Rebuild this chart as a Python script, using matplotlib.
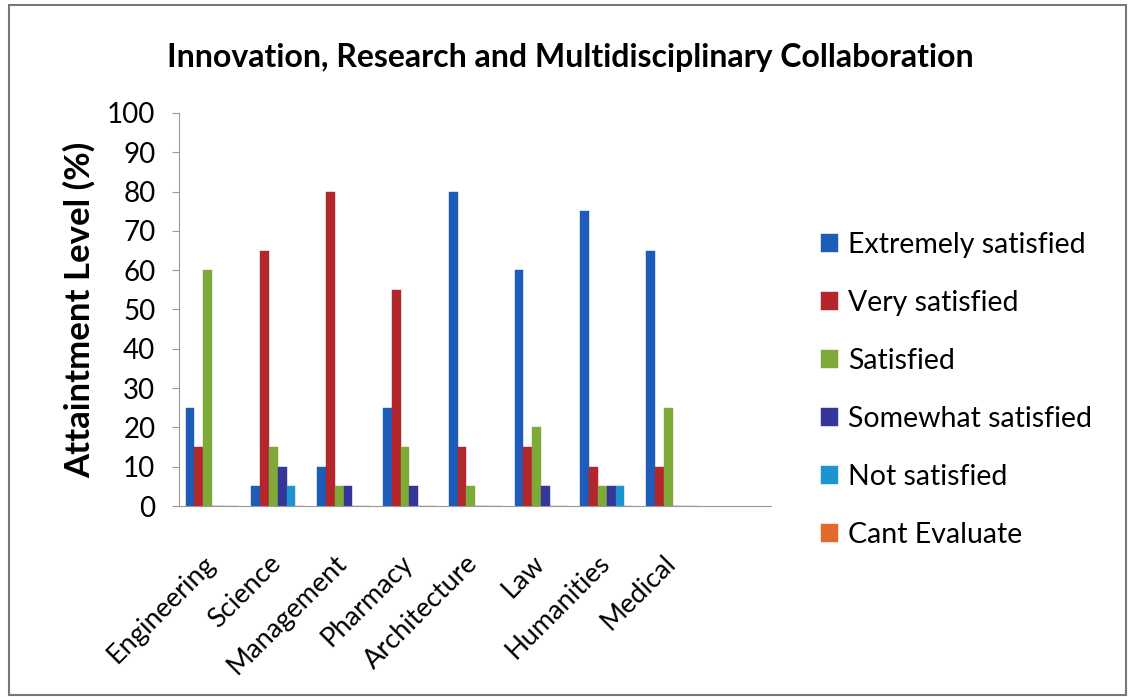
import numpy as np
import matplotlib
matplotlib.use('Agg')
import matplotlib.pyplot as plt
from matplotlib.patches import Rectangle
from matplotlib.transforms import ScaledTranslation

categories = ['Engineering', 'Science', 'Management', 'Pharmacy', 'Architecture',
              'Law', 'Humanities', 'Medical']
series = ['Extremely satisfied', 'Very satisfied', 'Satisfied',
          'Somewhat satisfied', 'Not satisfied', 'Cant Evaluate']

extremely = [25, 5, 10, 25, 80, 60, 75, 65]
very = [15, 65, 80, 55, 15, 15, 10, 10]
satisfied = [60, 15, 5, 15, 5, 20, 5, 25]
somewhat = [0, 10, 5, 5, 0, 5, 5, 0]
not_sat = [0, 5, 0, 0, 0, 0, 5, 0]
cant_eval = [0, 0, 0, 0, 0, 0, 0, 0]

values = [extremely, very, satisfied, somewhat, not_sat, cant_eval]
colors = ['#1D5CB8', '#B3262C', '#7DAA38', '#35359A', '#1E93D2', '#E2692A']

plt.rcParams['font.family'] = ['Lato', 'DejaVu Sans']

fig = plt.figure(figsize=(11.31, 6.97), dpi=100)
ax = fig.add_axes([0.1583, 0.274, 0.5237, 0.564])

n = len(series)
width = 1 / (n + 1.5)
x = np.arange(len(categories)) + 0.5
for i, (name, vals, col) in enumerate(zip(series, values, colors)):
    offs = (i - (n - 1) / 2) * width
    ax.bar(x + offs, vals, width=width, color=col, edgecolor=col,
           linewidth=0.3, label=name, zorder=2)

ax.set_xlim(0, 9)
ax.set_ylim(0, 100)
ax.set_yticks(range(0, 101, 10))
ax.tick_params(axis='y', labelsize=20, length=5, color='#999999', pad=12)
ax.set_xticks(x)
ax.set_xticklabels(categories, rotation=45, ha='right', rotation_mode='anchor',
                   fontsize=19.5)
ax.tick_params(axis='x', length=0, pad=32)
shift = ScaledTranslation(-7 / 72, 0, fig.dpi_scale_trans)
for lab in ax.get_xticklabels():
    lab.set_transform(lab.get_transform() + shift)

for s in ['top', 'right']:
    ax.spines[s].set_visible(False)
ax.spines['left'].set_color('#999999')
ax.spines['bottom'].set_color('#999999')

ax.set_ylabel('Attaintment Level (%)', fontsize=25, fontweight='bold', labelpad=8)
fig.text(0.504, 0.918, 'Innovation, Research and Multidisciplinary Collaboration',
         ha='center', va='center', fontsize=23, fontweight='bold')

ax.legend(loc='center left', bbox_to_anchor=(1.04, 0.295), frameon=False,
          fontsize=20.5, handlelength=0.6, handleheight=0.6, handletextpad=0.35,
          labelspacing=1.12)

# outer chart frame
fig.patches.append(Rectangle((0.008, 0.003), 0.988, 0.99, transform=fig.transFigure,
                             fill=False, edgecolor='#777777', linewidth=1.5))

fig.savefig('out.png', dpi=100)
